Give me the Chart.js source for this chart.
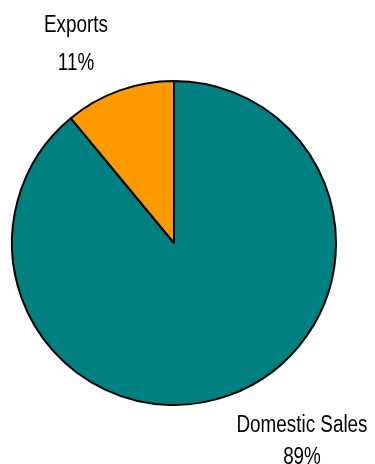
<!DOCTYPE html>
<html>
<head>
<meta charset="utf-8">
<script src="https://cdn.jsdelivr.net/npm/chart.js@4"></script>
<style>
html,body{margin:0;padding:0;background:#fff;}
canvas{display:block;}
</style>
</head>
<body>
<canvas id="c" width="375" height="464"></canvas>
<script>
const categories = ["Domestic Sales", "Exports"];
const values = [89, 11];
const percentLabels = ["89%", "11%"];
const colors = ["#008080", "#FF9900"];

const FONT = '23px "Liberation Sans", Arial, sans-serif';
const SQUEEZE = 0.82;

const labelPlugin = {
  id: 'outerLabels',
  afterDraw(chart) {
    const meta = chart.getDatasetMeta(0);
    const ctx = chart.ctx;
    // [dx, dy of first line baseline, gap to second line] relative to pie centre
    const place = [[128, 189, 32], [-98, -211, 38]];
    meta.data.forEach((arc, i) => {
      const cx = arc.x + place[i][0];
      const cy = arc.y + place[i][1];
      [categories[i], percentLabels[i]].forEach((txt, k) => {
        ctx.save();
        ctx.font = FONT;
        ctx.fillStyle = '#000';
        ctx.textAlign = 'center';
        ctx.textBaseline = 'alphabetic';
        ctx.translate(cx, cy + k * place[i][2]);
        ctx.scale(SQUEEZE, 1);
        ctx.fillText(txt, 0, 0);
        ctx.restore();
      });
    });
  }
};

new Chart(document.getElementById('c'), {
  type: 'pie',
  data: {
    labels: categories,
    datasets: [{
      data: values,
      backgroundColor: colors,
      borderColor: '#000',
      borderWidth: 2,
      borderAlign: 'center'
    }]
  },
  options: {
    responsive: false,
    animation: false,
    rotation: 0,
    layout: { padding: { left: 11, top: 80, right: 38, bottom: 58 } },
    plugins: {
      legend: { display: false },
      tooltip: { enabled: false },
      title: { display: false }
    }
  },
  plugins: [labelPlugin]
});
</script>
</body>
</html>
